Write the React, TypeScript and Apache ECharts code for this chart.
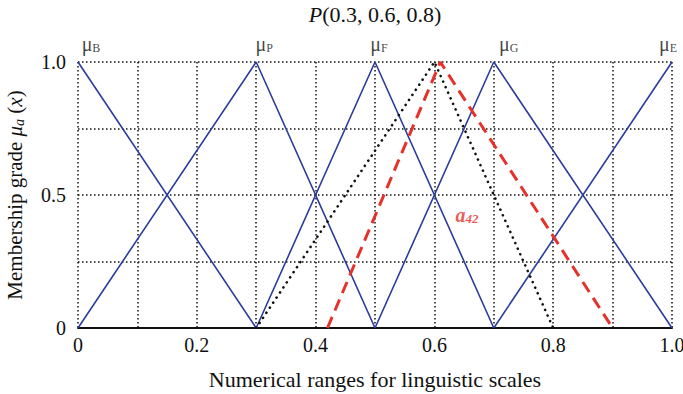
import React, { useEffect, useRef } from "react";
import * as echarts from "echarts";

const muB = [[0, 1], [0.3, 0]];
const muP = [[0, 0], [0.3, 1], [0.5, 0]];
const muF = [[0.3, 0], [0.5, 1], [0.7, 0]];
const muG = [[0.5, 0], [0.7, 1], [1.0, 0]];
const muE = [[0.7, 0], [1.0, 1]];
const pTri = [[0.3, 0], [0.6, 1], [0.8, 0]];
const a42 = [[0.42, 0], [0.61, 1], [0.9, 0]];
const scaleNames = ["B", "P", "F", "G", "E"];
const scalePeaks = [0, 0.3, 0.5, 0.7, 1.0];
const a42LabelPos = [0.655, 0.425];

const FONT = "Liberation Serif";
const BLUE = "#2c3c9c";
const RED = "#e8302a";
const labelOffsets = [[13, 0], [8, 0], [4, 0], [15, 0], [-4, 0]];

export default function App() {
  const ref = useRef<HTMLDivElement>(null);
  useEffect(() => {
    const chart = echarts.init(ref.current!, null, { renderer: "svg" });
    const blue = (data: number[][]) => ({
      type: "line",
      data,
      symbol: "none",
      lineStyle: { color: BLUE, width: 1.6 },
      z: 3,
    });
    chart.setOption({
      animation: false,
      backgroundColor: "#ffffff",
      grid: { left: 78, right: 11, top: 62, bottom: 66, outerBoundsMode: "none", containLabel: false },
      graphic: [
        {
          type: "text",
          x: 375,
          y: 14,
          style: {
            text: "{i|P}(0.3, 0.6, 0.8)",
            textAlign: "center",
            textVerticalAlign: "middle",
            fontFamily: FONT,
            fontSize: 22,
            fill: "#111",
            rich: {
              i: { fontStyle: "italic", fontFamily: FONT, fontSize: 22, fill: "#111" },
            },
          },
        },
      ],
      xAxis: {
        type: "value",
        min: 0,
        max: 1,
        interval: 0.1,
        name: "Numerical ranges for linguistic scales",
        nameLocation: "middle",
        nameGap: 40,
        nameTextStyle: { fontFamily: FONT, fontSize: 22, color: "#111" },
        axisLine: { show: true, lineStyle: { color: "#111", width: 2 } },
        axisTick: { show: false },
        axisLabel: {
          fontFamily: FONT,
          fontSize: 20,
          color: "#111",
          margin: 7,
          formatter: (v: number) => {
            const k = Math.round(v * 10);
            if (k % 2 !== 0) return "";
            if (k === 0) return "0";
            return (k / 10).toFixed(1);
          },
        },
        splitLine: { show: true, lineStyle: { color: "#111", width: 1.5, type: [1.5, 2.5] } },
      },
      yAxis: {
        type: "value",
        min: 0,
        max: 1,
        interval: 0.25,
        name: "{n|Membership grade }{i|μ}{s|a}{n| (}{i|x}{n|)}",
        nameLocation: "middle",
        nameGap: 52,
        nameTextStyle: {
          fontFamily: FONT,
          fontSize: 21,
          color: "#111",
          rich: {
            n: { fontFamily: FONT, fontSize: 21, color: "#111" },
            i: { fontFamily: FONT, fontSize: 21, fontStyle: "italic", color: "#111" },
            s: { fontFamily: FONT, fontSize: 14, fontStyle: "italic", color: "#111", verticalAlign: "bottom", padding: [8, 0, 0, 0] },
          },
        },
        axisLine: { show: false },
        axisTick: { show: false },
        axisLabel: {
          fontFamily: FONT,
          fontSize: 20,
          color: "#111",
          margin: 12,
          formatter: (v: number) => {
            const k = Math.round(v * 100);
            if (k === 0) return "0";
            if (k === 50) return "0.5";
            if (k === 100) return "1.0";
            return "";
          },
        },
        splitLine: { show: true, lineStyle: { color: "#111", width: 1.5, type: [1.5, 2.5] } },
      },
      series: [
        blue(muB),
        blue(muP),
        blue(muF),
        blue(muG),
        blue(muE),
        {
          type: "line",
          data: pTri,
          symbol: "none",
          lineStyle: { color: "#111", width: 2.6, type: [0.1, 6], cap: "round" },
          z: 4,
        },
        {
          type: "line",
          data: a42,
          symbol: "none",
          lineStyle: { color: RED, width: 3, type: [12, 7] },
          z: 5,
        },
        {
          type: "scatter",
          symbolSize: 0,
          silent: true,
          data: scalePeaks.map((x, i) => ({
            value: [x, 1],
            name: scaleNames[i],
            label: { offset: labelOffsets[i] },
          })),
          label: {
            show: true,
            position: "top",
            distance: 8,
            formatter: (p: any) => `{m|μ}{s|${p.name}}`,
            rich: {
              m: { fontFamily: FONT, fontSize: 20, color: "#111" },
              s: { fontFamily: FONT, fontSize: 12, color: "#111", verticalAlign: "bottom", padding: [7, 0, 0, 0] },
            },
          },
          z: 6,
        },
        {
          type: "scatter",
          symbolSize: 0,
          silent: true,
          data: [a42LabelPos],
          label: {
            show: true,
            position: "inside",
            formatter: () => "{a|a}{s|42}",
            rich: {
              a: { fontFamily: FONT, fontSize: 20, fontStyle: "italic", fontWeight: "bold", color: RED },
              s: { fontFamily: FONT, fontSize: 13, fontStyle: "italic", fontWeight: "bold", color: RED, verticalAlign: "bottom", padding: [8, 0, 0, 0] },
            },
          },
          z: 6,
        },
      ],
    });
    return () => chart.dispose();
  }, []);
  return <div ref={ref} style={{ width: 683, height: 394, position: "fixed", left: 0, top: 0 }} />;
}
